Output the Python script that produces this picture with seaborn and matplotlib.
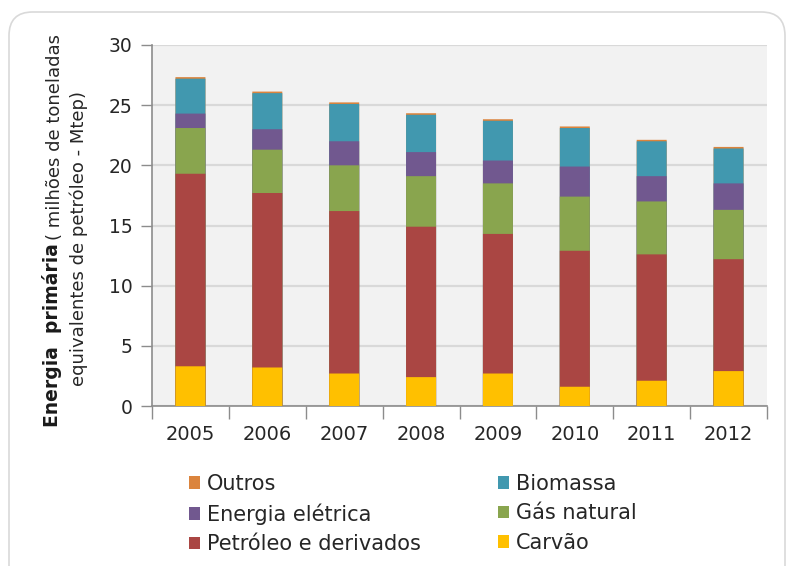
import matplotlib
matplotlib.use("Agg")
import matplotlib.pyplot as plt
from matplotlib.patches import FancyBboxPatch, Patch
from matplotlib.ticker import FixedLocator, NullFormatter
import numpy as np
import pandas as pd
import seaborn as sns

anos = ["2005", "2006", "2007", "2008", "2009", "2010", "2011", "2012"]

carvao = [3.3, 3.2, 2.7, 2.4, 2.7, 1.6, 2.1, 2.9]
petroleo = [16.0, 14.5, 13.5, 12.5, 11.6, 11.3, 10.5, 9.3]
gas_natural = [3.8, 3.6, 3.8, 4.2, 4.2, 4.5, 4.4, 4.1]
energia_eletrica = [1.2, 1.7, 2.0, 2.0, 1.9, 2.5, 2.1, 2.2]
biomassa = [2.9, 3.0, 3.1, 3.1, 3.3, 3.2, 2.9, 2.9]
outros = [0.13, 0.13, 0.13, 0.13, 0.13, 0.13, 0.12, 0.13]

fontes = ["Carvão", "Petróleo e derivados", "Gás natural",
          "Energia elétrica", "Biomassa", "Outros"]
valores = [carvao, petroleo, gas_natural, energia_eletrica, biomassa, outros]
cores = ["#FFC000", "#AA4643", "#89A54E", "#71588F", "#4198AF", "#DB843D"]

W, H = 788, 566
fig = plt.figure(figsize=(W / 100, H / 100), dpi=100)
fig.patch.set_facecolor("white")

def fx(px):
    return px / W

def fy(py):
    return (H - py) / H

# rounded frame around the chart
frame = FancyBboxPatch((fx(9), fy(600)), fx(776), (600 - 12) / H,
                       boxstyle="round,pad=0,rounding_size=0.03",
                       transform=fig.transFigure, facecolor="none",
                       edgecolor="#d9d9d9", linewidth=1.2, zorder=0,
                       mutation_aspect=W / H)
fig.patches.append(frame)

ax = fig.add_axes([fx(152), fy(406), fx(767) - fx(152), fy(45) - fy(406)])
ax.set_facecolor("#f2f2f2")

df = pd.DataFrame({"ano": anos})
cum = np.zeros(len(anos))
cumulativos = []
for v in valores:
    cum = cum + np.array(v)
    cumulativos.append(cum.copy())

# stacked bars: draw running totals from the top layer down
for fonte, total, cor in reversed(list(zip(fontes, cumulativos, cores))):
    d = df.assign(total=total)
    sns.barplot(data=d, x="ano", y="total", order=anos, color=cor,
                saturation=1, width=0.39, linewidth=0, ax=ax, zorder=3,
                snap=False)

ax.set_ylim(0, 30)
ax.set_xlim(-0.5, len(anos) - 0.5)
ax.set_yticks([0, 5, 10, 15, 20, 25, 30])
ax.yaxis.grid(True, color="#d9d9d9", linewidth=1.6, zorder=1)
ax.xaxis.grid(False)
ax.set_axisbelow(True)
ax.set_xlabel("")
ax.set_ylabel("")

for s in ["top", "right"]:
    ax.spines[s].set_visible(False)
for s in ["left", "bottom"]:
    ax.spines[s].set_color("#8c8c8c")
    ax.spines[s].set_linewidth(1.2)

ax.tick_params(axis="y", length=8, width=1, color="#8c8c8c",
               labelsize=13.5, labelcolor="#262626", pad=6)
ax.tick_params(axis="x", which="major", length=0, labelsize=14,
               labelcolor="#262626", pad=14)
ax.xaxis.set_minor_locator(FixedLocator(np.arange(-0.5, len(anos), 1.0)))
ax.xaxis.set_minor_formatter(NullFormatter())
ax.tick_params(axis="x", which="minor", length=9, width=1, color="#8c8c8c")

# y-axis title in two lines, bold lead followed by units
t_bold = fig.text(fx(52), fy(427), "Energia  primária", rotation=90,
                  ha="center", va="bottom", fontsize=13.5, fontweight="bold",
                  color="#1a1a1a")
fig.canvas.draw()
bb = t_bold.get_window_extent(fig.canvas.get_renderer())
fig.text(fx(55), (bb.y1 + 3) / H, "( milhões de toneladas", rotation=90,
         ha="center", va="bottom", fontsize=13, color="#262626")
fig.text(fx(79), fy(238), "equivalentes de petróleo - Mtep)", rotation=90,
         ha="center", va="center", fontsize=13, color="#262626")

# legend in two columns
cor_de = dict(zip(fontes, cores))
col1 = ["Outros", "Energia elétrica", "Petróleo e derivados"]
col2 = ["Biomassa", "Gás natural", "Carvão"]
for nomes, xpx in [(col1, 189), (col2, 498)]:
    handles = [Patch(facecolor=cor_de[n], edgecolor="none") for n in nomes]
    fig.legend(handles, nomes, loc="upper left",
               bbox_to_anchor=(fx(xpx), fy(474)), frameon=False,
               fontsize=15, handlelength=0.55, handleheight=0.55,
               handletextpad=0.3, labelspacing=0.45, borderpad=0,
               borderaxespad=0, labelcolor="#262626")

fig.savefig("out.png", dpi=100, facecolor="white")
